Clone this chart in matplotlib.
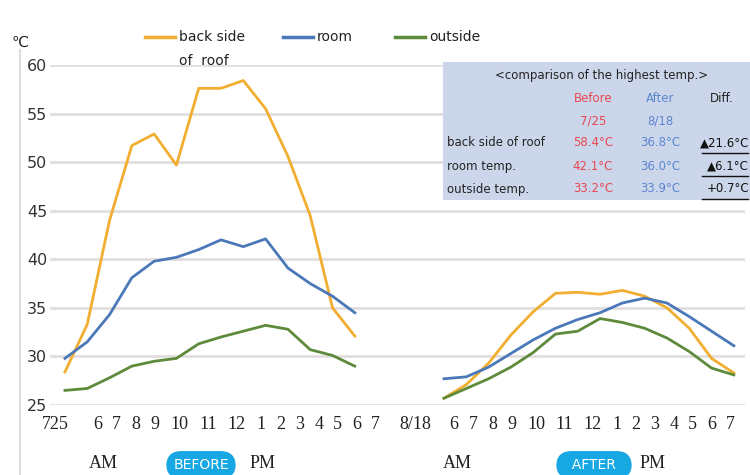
import matplotlib.pyplot as plt
from matplotlib.patches import Rectangle
from matplotlib.lines import Line2D

# hourly readings, before (7/25) and after (8/18)
before_x = list(range(0, 14))
after_x = list(range(17, 31))

roof_before = [28.4, 33.3, 44.0, 51.7, 52.9, 49.7, 57.6, 57.6, 58.4, 55.5, 50.6, 44.5, 35.0, 32.1]
room_before = [29.8, 31.5, 34.3, 38.1, 39.8, 40.2, 41.0, 42.0, 41.3, 42.1, 39.1, 37.5, 36.2, 34.5]
out_before = [26.5, 26.7, 27.8, 29.0, 29.5, 29.8, 31.3, 32.0, 32.6, 33.2, 32.8, 30.7, 30.1, 29.0]

roof_after = [25.7, 27.1, 29.3, 32.2, 34.6, 36.5, 36.6, 36.4, 36.8, 36.2, 35.0, 32.9, 29.8, 28.3]
room_after = [27.7, 27.9, 28.9, 30.3, 31.7, 32.9, 33.8, 34.5, 35.5, 36.0, 35.5, 34.1, 32.6, 31.1]
out_after = [25.7, 26.7, 27.7, 28.9, 30.4, 32.3, 32.6, 33.9, 33.5, 32.9, 31.9, 30.5, 28.8, 28.1]

# x tick labels (the original row is unevenly spaced)
tick_pos = [-0.45, 1.45, 2.3, 3.17, 4.04, 5.15, 6.42, 7.7, 8.8, 9.67, 10.53, 11.38, 12.22, 13.08, 13.9,
            15.72, 17.45, 18.3, 19.17, 20.03, 21.15, 22.38, 23.67, 24.74, 25.6, 26.43, 27.31, 28.15, 29.0, 29.85]
tick_labels = ['725', '6', '7', '8', '9', '10', '11', '12', '1', '2', '3', '4', '5', '6', '7',
               '8/18', '6', '7', '8', '9', '10', '11', '12', '1', '2', '3', '4', '5', '6', '7']

y_ticks = [25, 30, 35, 40, 45, 50, 55, 60]

table_rows = ['back side of roof', 'room temp.', 'outside temp.']
table_before = ['58.4°C', '42.1°C', '33.2°C']
table_after = ['36.8°C', '36.0°C', '33.9°C']
table_diff = ['▲21.6°C', '▲6.1°C', '+0.7°C']

c_roof = '#f2ae30'
c_room = '#4a78b8'
c_out = '#5e8a3c'
c_red = '#e8474f'
c_blue = '#5a86d0'

fig = plt.figure(figsize=(7.5, 4.75), dpi=100)
ax = fig.add_axes([50 / 750, 1 - 405 / 475, 695 / 750, 340 / 475])

for xs, ys, c in [(before_x, roof_before, c_roof), (before_x, room_before, c_room),
                  (before_x, out_before, c_out), (after_x, roof_after, c_roof),
                  (after_x, room_after, c_room), (after_x, out_after, c_out)]:
    ax.plot(xs, ys, color=c, lw=2.0, solid_joinstyle='round')

ax.set_xlim(-0.67, 30.5)
ax.set_ylim(25, 60)
ax.set_yticks(y_ticks)
ax.set_yticklabels([str(v) for v in y_ticks], fontsize=11.5, color='#333333')
ax.yaxis.grid(True, color='#e2dede', lw=2)
ax.set_axisbelow(True)
ax.tick_params(axis='y', length=0, pad=2)
ax.set_xticks(tick_pos)
ax.set_xticklabels(tick_labels, fontsize=13, family='Liberation Serif', color='#222222')
ax.tick_params(axis='x', length=0, pad=8)
for s in ax.spines.values():
    s.set_visible(False)

# left border line of the original image
fig.add_artist(Line2D([20 / 750, 20 / 750], [0, 1 - 50 / 475], color='#dddddd', lw=1.5))

fig.text(12 / 750, 1 - 42 / 475, '℃', fontsize=11, va='center', color='#222222')

# legend
for x0, c, label in [(145, c_roof, 'back side'), (283, c_room, 'room'), (395, c_out, 'outside')]:
    fig.add_artist(Line2D([x0 / 750, (x0 + 30) / 750], [1 - 37 / 475] * 2, color=c, lw=2.5))
    fig.text((x0 + 34) / 750, 1 - 37 / 475, label, fontsize=10, va='center', color='#222222')
fig.text(179 / 750, 1 - 61 / 475, 'of  roof', fontsize=10, va='center', color='#222222')

# comparison table
fig.add_artist(Rectangle((443 / 750, 1 - 200 / 475), 307 / 750, 138 / 475,
                         facecolor='#ccd6ea', edgecolor='none'))
fig.text(602 / 750, 1 - 76 / 475, '<comparison of the highest temp.>', fontsize=8.5,
         ha='center', va='center', color='#222222')
fig.text(593 / 750, 1 - 98 / 475, 'Before', fontsize=8.5, ha='center', va='center', color=c_red)
fig.text(660 / 750, 1 - 98 / 475, 'After', fontsize=8.5, ha='center', va='center', color=c_blue)
fig.text(722 / 750, 1 - 98 / 475, 'Diff.', fontsize=8.5, ha='center', va='center', color='#222222')
fig.text(593 / 750, 1 - 121 / 475, '7/25', fontsize=8.5, ha='center', va='center', color=c_red)
fig.text(660 / 750, 1 - 121 / 475, '8/18', fontsize=8.5, ha='center', va='center', color=c_blue)
for i, name in enumerate(table_rows):
    y = 1 - (143 + 23 * i) / 475
    fig.text(447 / 750, y, name, fontsize=8.5, va='center', color='#222222')
    fig.text(593 / 750, y, table_before[i], fontsize=8.5, ha='center', va='center', color=c_red)
    fig.text(660 / 750, y, table_after[i], fontsize=8.5, ha='center', va='center', color=c_blue)
    fig.text(749 / 750, y, table_diff[i], fontsize=8.5, ha='right', va='center', color='#111111')
    fig.add_artist(Line2D([702 / 750, 748 / 750], [y - 10 / 475] * 2, color='#111111', lw=1))

# AM / PM and pills
for x0, txt in [(103, 'AM'), (263, 'PM'), (457, 'AM'), (653, 'PM')]:
    fig.text(x0 / 750, 1 - 463 / 475, txt, fontsize=13, family='Liberation Serif',
             ha='center', va='center', color='#222222')
for cx, txt in [(201, 'BEFORE'), (594, '  AFTER  ')]:
    fig.text(cx / 750, 1 - 465 / 475, txt, fontsize=10, ha='center', va='center', color='white',
             bbox=dict(boxstyle='round,pad=0.5,rounding_size=1.1', facecolor='#17a8e3',
                       edgecolor='none'))

fig.savefig('out.png', dpi=100)
